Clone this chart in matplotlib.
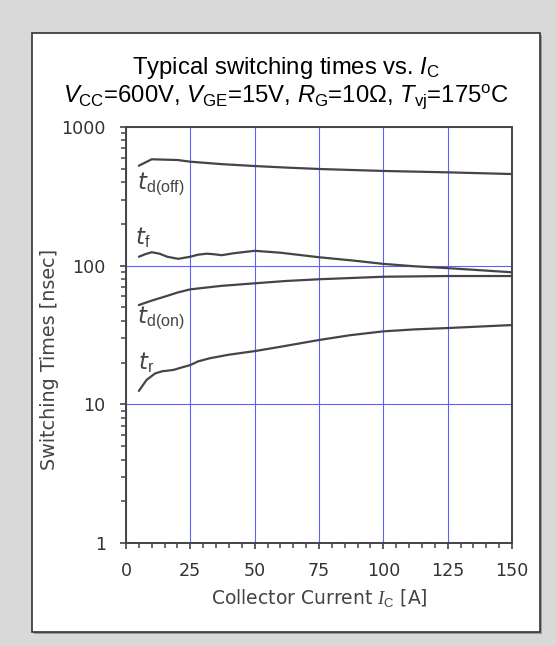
import matplotlib
matplotlib.use("Agg")
import matplotlib.pyplot as plt
from matplotlib.patches import Rectangle
from matplotlib.ticker import FixedLocator, LogLocator, NullFormatter, FixedFormatter

plt.rcParams['mathtext.fontset'] = 'custom'
plt.rcParams['mathtext.rm'] = 'Liberation Sans'
plt.rcParams['mathtext.it'] = 'Liberation Sans:italic'
plt.rcParams['mathtext.sf'] = 'DejaVu Sans:italic'
plt.rcParams['mathtext.bf'] = 'Liberation Serif:italic'

# ---- data ----
td_off_x = [5, 10, 20, 25, 37, 50, 62, 75, 100, 125, 150]
td_off_y = [526, 585, 578, 562, 540, 523, 510, 498, 482, 471, 458]

tf_x = [5, 7.5, 10, 13, 16, 20.3, 25, 28, 31.4, 34, 37.2, 42, 50, 60, 75, 88, 100, 112, 125, 150]
tf_y = [116, 121, 125, 122, 116, 112, 116, 120, 122, 121, 119, 123, 128, 124, 115, 109, 103, 99, 96, 89.6]

td_on_x = [5, 10, 15.8, 20, 25, 37, 50, 62, 75, 100, 125, 150]
td_on_y = [52, 56, 60.4, 64, 67.5, 71.5, 74.6, 77.5, 79.8, 83.2, 84.2, 84.2]

tr_x = [5, 8, 11.3, 14, 18.4, 21, 25, 28, 32.6, 40, 50, 60, 75, 87, 100, 112, 125, 150]
tr_y = [12.5, 15, 16.7, 17.3, 17.7, 18.3, 19.2, 20.4, 21.5, 22.8, 24.2, 26, 29.1, 31.5, 33.6, 34.7, 35.5, 37.3]

label_texts = [r"$\mathsf{t}_\mathrm{d(off)}$", r"$\mathsf{t}_\mathrm{f}$",
               r"$\mathsf{t}_\mathrm{d(on)}$", r"$\mathsf{t}_\mathrm{r}$"]
label_x = [4.3, 3.6, 4.3, 4.6]
label_y = [357, 143, 38.6, 18.0]

x_ticks = [0, 25, 50, 75, 100, 125, 150]
y_ticks = [1, 10, 100, 1000]
y_ticklabels = ["1", "10", "100", "1000"]

title1 = r"Typical switching times vs. $I_\mathrm{C}$"
title2 = r"$V_\mathrm{CC}$=600V, $V_\mathrm{GE}$=15V, $R_\mathrm{G}$=10Ω, $T_\mathrm{vj}$=175$^\mathrm{o}$C"
xlabel = r"Collector Current $\mathbf{I}_\mathrm{C}$ [A]"
ylabel = "Switching Times [nsec]"

# ---- figure ----
W, H = 556, 646
fig = plt.figure(figsize=(W / 100, H / 100), dpi=100, facecolor='#d9d9d9')

# white panel
pl, pr, pt, pb = 31.7, 539.7, 33, 631.7
fig.patches.append(Rectangle((pl / W + 2 / W, 1 - pb / H - 2 / H), (pr - pl) / W, (pb - pt) / H,
                             transform=fig.transFigure, facecolor='#9a9a9a', edgecolor='none', zorder=-2))
fig.patches.append(Rectangle((pl / W, 1 - pb / H), (pr - pl) / W, (pb - pt) / H,
                             transform=fig.transFigure, facecolor='white', edgecolor='#333333',
                             linewidth=1.2, zorder=-1))

ax_l, ax_r, ax_t, ax_b = 126, 512, 127, 543
ax = fig.add_axes([ax_l / W, 1 - ax_b / H, (ax_r - ax_l) / W, (ax_b - ax_t) / H])
ax.set_zorder(2)
ax.set_facecolor('white')

line_kw = dict(color='#454545', lw=1.6, solid_capstyle='round', solid_joinstyle='round')
ax.plot(td_off_x, td_off_y, **line_kw)
ax.plot(tf_x, tf_y, **line_kw)
ax.plot(td_on_x, td_on_y, **line_kw)
ax.plot(tr_x, tr_y, **line_kw)

for t, lx, ly in zip(label_texts, label_x, label_y):
    ax.text(lx, ly, t, fontsize=16.5, color='#444444', ha='left', va='baseline')

ax.set_yscale('log')
ax.set_xlim(0, 150)
ax.set_ylim(1, 1000)

ax.xaxis.set_major_locator(FixedLocator(x_ticks))
ax.xaxis.set_minor_locator(FixedLocator(list(range(0, 151, 5))))
ax.yaxis.set_major_locator(FixedLocator(y_ticks))
ax.yaxis.set_major_formatter(FixedFormatter(y_ticklabels))
ax.yaxis.set_minor_locator(LogLocator(base=10, subs=range(2, 10)))
ax.yaxis.set_minor_formatter(NullFormatter())

ax.grid(True, which='major', color='#6060ff', lw=0.8)
ax.set_axisbelow(True)

for s in ax.spines.values():
    s.set_color('#444444')
    s.set_linewidth(1.4)

ax.tick_params(which='major', direction='out', length=4.5, width=1.2, color='#444444',
               labelsize=12.6, labelcolor='#333333')
ax.tick_params(which='minor', direction='out', length=3.6, width=1.1, color='#444444')
ax.tick_params(axis='y', which='major', pad=10)
ax.tick_params(axis='x', which='major', pad=9)

ax.set_xlabel(xlabel, fontsize=13.5, color='#444444')
ax.xaxis.set_label_coords(0.5, (543 - 587) / (ax_b - ax_t))
ax.set_ylabel(ylabel, fontsize=13.8, color='#444444', va='center')
ax.yaxis.set_label_coords((49.7 - ax_l) / (ax_r - ax_l), (543 - 359) / (ax_b - ax_t))

cx = (pl + pr) / 2 / W
fig.text(cx, 1 - 74 / H, title1, ha='center', va='baseline', fontsize=17.2,
         family='Liberation Sans', color='black')
fig.text(cx, 1 - 102 / H, title2, ha='center', va='baseline', fontsize=17.2,
         family='Liberation Sans', color='black')

fig.savefig('out.png', dpi=100, facecolor=fig.get_facecolor())
